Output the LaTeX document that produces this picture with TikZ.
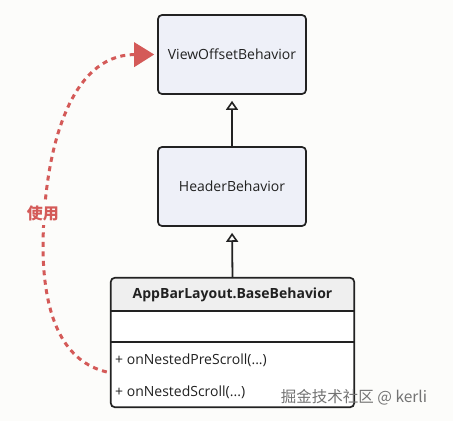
\documentclass[tikz,border=0pt]{standalone}
\usepackage{fontspec}
\setmainfont{Open Sans}
\newfontfamily\cjk{Noto Sans CJK SC}
\usetikzlibrary{arrows.meta,calc}
\definecolor{bg}{HTML}{FCFCFA}
\definecolor{boxfill}{HTML}{EEF0F8}
\definecolor{hdr}{HTML}{EFEFEF}
\definecolor{edge}{HTML}{222222}
\definecolor{usered}{HTML}{D45A58}
\tikzset{
  x=1pt,y=1pt,
  classbox/.style={draw=edge,line width=1.7pt,rounded corners=4pt,fill=boxfill,
    minimum width=148pt,minimum height=79pt,inner sep=0pt,font=\fontsize{14}{16}\selectfont,text=black!87},
  inh/.style={draw=edge,line width=1.8pt,-{Triangle[open,length=9pt,width=12pt,line width=1.6pt]},shorten >=6pt},
  usearrow/.style={draw=usered,line width=3pt,dash pattern=on 5pt off 4.5pt,
    -{Triangle[length=20pt,width=25pt,line width=0pt]}},
  member/.style={anchor=west,inner sep=0pt,font=\fontsize{14}{16}\selectfont,text=black!87},
}
\begin{document}
\begin{tikzpicture}
\fill[bg] (0,0) rectangle (453,-421);
\useasboundingbox (0,0) rectangle (453,-421);

\node[classbox] (vob) at (232,-54.5) {ViewOffsetBehavior};
\node[classbox] (hb) at (232,-186.5) {HeaderBehavior};

% UML class box
\node[fill=white,minimum width=243pt,minimum height=129pt,inner sep=0pt,rounded corners=4pt] (base) at (232.5,-342.5) {};
\fill[hdr,rounded corners=4pt] ([yshift=-33pt]base.north west) -- (base.north west) -- (base.north east) -- ([yshift=-33pt]base.north east) -- cycle;
\fill[hdr] ([yshift=-33pt]base.north west) rectangle ([yshift=-20pt]base.north east);
\draw[edge,line width=1.7pt] ([yshift=-33pt]base.north west) -- ([yshift=-33pt]base.north east);
\draw[edge,line width=1.7pt] ([yshift=-64pt]base.north west) -- ([yshift=-64pt]base.north east);
\draw[edge,line width=1.7pt,rounded corners=4pt] (base.north west) rectangle (base.south east);
\node[inner sep=0pt,font=\fontsize{14}{16}\selectfont\bfseries,text=black!87] (name) at (232.5,-295) {AppBarLayout.BaseBehavior};
\node[member] (m1) at (115,-360) {+ onNestedPreScroll(...)};
\node[member] (m2) at (115,-392) {+ onNestedScroll(...)};

% inheritance
\draw[inh] (hb.north) -- (vob.south);
\draw[inh] (base.north) -- (hb.south);

% usage
\coordinate (src) at ([xshift=-4pt,yshift=-29.5pt]base.west);
\coordinate (dst) at ([xshift=-3pt]vob.west);
\draw[usearrow] (src) .. controls (65,-362) and (44,-320) .. (43,-250)
  .. controls (43,-150) and (70,-55) .. (dst);
\node[fill=bg,inner xsep=1pt,inner ysep=4pt,text=usered,font=\cjk\bfseries\fontsize{16}{18}\selectfont] (lbl) at (43,-213) {使用};

% watermark
\node[text=black!55,font=\cjk\fontsize{15.5}{18}\selectfont,inner sep=0pt] (wm) at (354,-397) {掘金技术社区 @ kerli};
\end{tikzpicture}
\end{document}
